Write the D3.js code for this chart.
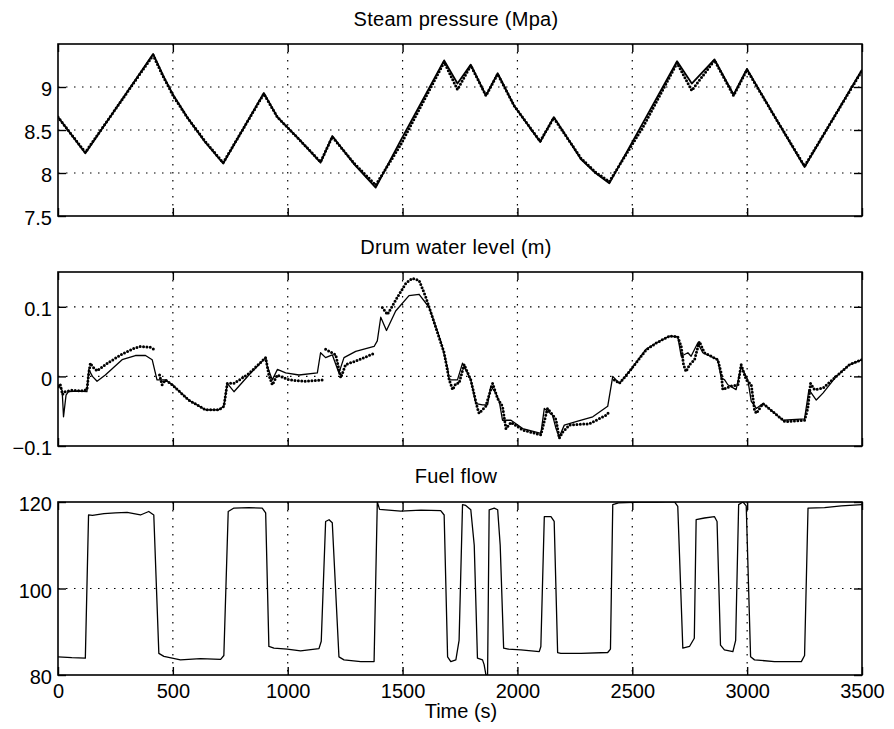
<!DOCTYPE html>
<html><head><meta charset="utf-8">
<script src="https://cdn.jsdelivr.net/npm/d3@7"></script>
<style>
body{margin:0;background:#fff}
svg{display:block;background:#fff}
</style>
</head><body>
<svg id="c" width="894" height="729"></svg>
<script>
// ---------------- DATA ----------------
const xTicks = [0, 500, 1000, 1500, 2000, 2500, 3000, 3500];
const xTickLabels = ["0", "500", "1000", "1500", "2000", "2500", "3000", "3500"];

const titles = ["Steam pressure (Mpa)", "Drum water level (m)", "Fuel flow"];
const xLabel = "Time (s)";

const pressureTicks = [7.5, 8, 8.5, 9];
const pressureTickLabels = ["7.5", "8", "8.5", "9"];
const levelTicks = [-0.1, 0, 0.1];
const levelTickLabels = ["\u22120.1", "0", "0.1"];
const fuelTicks = [80, 100, 120];
const fuelTickLabels = ["80", "100", "120"];

// Steam pressure: model (solid) and measured (dotted)
const pressureModel = [[0,8.65],[119,8.23],[414,9.385],[460,9.12],[503,8.90],[562,8.65],[640,8.36],[719,8.11],
  [896,8.93],[955,8.65],[1050,8.39],[1143,8.12],[1194,8.43],[1290,8.10],[1383,7.83],[1492,8.38],[1681,9.31],
  [1739,9.04],[1797,9.26],[1863,8.90],[1914,9.16],[1986,8.78],[2099,8.36],[2158,8.65],[2219,8.40],[2277,8.16],
  [2340,8.00],[2400,7.88],[2550,8.60],[2695,9.30],[2759,9.04],[2858,9.32],[2941,8.91],[2999,9.21],[3119,8.66],
  [3250,8.07],[3500,9.20]];
const pressureMeasured = [[0,8.65],[119,8.24],[414,9.37],[460,9.11],[503,8.89],[562,8.65],[640,8.37],[719,8.12],
  [896,8.92],[955,8.65],[1050,8.39],[1143,8.13],[1194,8.42],[1290,8.11],[1383,7.86],[1492,8.33],[1681,9.29],
  [1739,8.97],[1797,9.25],[1863,8.90],[1914,9.15],[1986,8.78],[2099,8.37],[2158,8.64],[2219,8.40],[2277,8.17],
  [2340,8.01],[2400,7.90],[2550,8.55],[2695,9.28],[2759,8.96],[2858,9.31],[2941,8.90],[2999,9.20],[3119,8.66],
  [3250,8.08],[3500,9.19]];

// Drum water level: model (solid) and measured (dotted, null = gap)
const levelModel = [[0,-0.012],[18,-0.020],[24,-0.058],[35,-0.027],[45,-0.022],[90,-0.021],[126,-0.022],[134,0.010],
  [150,0.000],[170,-0.007],[206,0.002],[279,0.024],[337,0.030],[381,0.030],[410,0.024],[431,-0.005],[468,-0.005],
  [497,-0.012],[569,-0.034],[642,-0.048],[700,-0.048],[722,-0.043],[737,-0.010],[766,-0.022],[831,0.002],[904,0.027],
  [911,0.0145],[933,-0.005],[955,0.010],[991,0.005],[1049,0.002],[1129,0.005],[1143,0.034],[1165,0.027],[1194,0.031],
  [1223,0.005],[1245,0.027],[1296,0.036],[1376,0.043],[1390,0.051],[1405,0.085],[1430,0.066],[1470,0.094],[1528,0.116],
  [1572,0.118],[1616,0.099],[1666,0.051],[1696,0.012],[1703,-0.005],[1739,-0.005],[1761,0.019],[1797,-0.005],
  [1819,-0.039],[1848,-0.041],[1870,-0.041],[1884,-0.014],[1906,-0.024],[1921,-0.036],[1935,-0.063],[1972,-0.063],
  [2023,-0.075],[2102,-0.082],[2117,-0.046],[2153,-0.056],[2168,-0.075],[2182,-0.087],[2204,-0.070],[2255,-0.065],
  [2328,-0.058],[2393,-0.043],[2415,0.000],[2444,-0.010],[2487,0.007],[2560,0.039],[2604,0.048],[2662,0.058],
  [2698,0.057],[2713,0.029],[2742,0.034],[2756,0.029],[2785,0.048],[2807,0.034],[2872,0.024],[2887,-0.002],
  [2902,-0.005],[2916,-0.012],[2952,-0.019],[2974,0.014],[3003,-0.005],[3018,-0.036],[3040,-0.046],[3069,-0.039],
  [3156,-0.063],[3250,-0.061],[3269,-0.019],[3301,-0.034],[3330,-0.024],[3388,0.000],[3446,0.017],[3500,0.024]];
const levelMeasured = [[0,-0.015],[10,-0.012],[20,-0.026],[30,-0.022],[60,-0.020],[100,-0.021],[126,-0.019],[134,0.005],
  [141,0.019],[150,0.014],[170,0.008],[220,0.020],[279,0.032],[330,0.040],[359,0.043],[400,0.042],[424,0.038],[430,null],
  [442,0.002],[453,-0.012],[468,-0.005],[497,-0.012],[569,-0.034],[642,-0.048],[700,-0.048],[722,-0.043],[737,-0.010],
  [766,-0.010],[831,0.004],[904,0.027],[918,0.002],[933,-0.012],[955,0.002],[1005,-0.005],[1078,-0.007],[1151,-0.005],
  [1158,null],[1165,0.039],[1209,0.031],[1231,-0.002],[1252,0.017],[1296,0.022],[1340,0.028],[1383,0.034],[1398,null],
  [1412,0.099],[1434,0.089],[1485,0.118],[1515,0.134],[1543,0.141],[1572,0.138],[1601,0.114],[1645,0.070],[1681,0.034],
  [1703,-0.005],[1718,-0.019],[1732,-0.010],[1746,-0.010],[1768,0.017],[1797,-0.005],[1826,-0.046],[1833,-0.053],
  [1862,-0.043],[1892,-0.010],[1914,-0.032],[1935,-0.043],[1950,-0.075],[1972,-0.066],[2023,-0.077],[2102,-0.084],
  [2131,-0.046],[2160,-0.058],[2168,-0.062],[2182,-0.089],[2197,-0.080],[2226,-0.070],[2313,-0.068],[2385,-0.056],
  [2400,-0.051],[2408,null],[2422,-0.005],[2444,-0.010],[2487,0.007],[2560,0.038],[2604,0.048],[2662,0.058],[2698,0.057],
  [2713,0.043],[2723,0.017],[2734,0.007],[2750,0.017],[2771,0.024],[2792,0.050],[2814,0.034],[2872,0.024],[2887,0.005],
  [2894,-0.019],[2930,-0.014],[2960,-0.012],[2974,0.017],[2996,-0.005],[3018,-0.012],[3032,-0.048],[3040,-0.053],
  [3069,-0.039],[3164,-0.065],[3250,-0.063],[3264,-0.046],[3276,-0.010],[3293,-0.019],[3330,-0.017],[3388,0.000],
  [3446,0.017],[3500,0.024]];

// Fuel flow
const fuelFlow = [[0,84.2],[60,84.0],[119,83.9],[133,117.0],[150,116.9],[200,117.3],[250,117.5],[301,117.6],[359,117.0],
  [395,117.8],[417,117.0],[439,85.0],[461,84.3],[533,83.5],[620,83.8],[708,83.6],[722,84.5],[741,117.8],[766,118.6],
  [830,118.7],[889,118.6],[904,117.5],[918,86.6],[940,86.2],[998,86.0],[1056,85.6],[1136,86.1],[1146,87.8],[1165,115.5],
  [1180,115.9],[1194,115.2],[1223,84.2],[1245,83.5],[1318,83.1],[1376,83.1],[1390,120.0],[1400,118.3],[1492,117.9],
  [1580,118.1],[1666,118.0],[1681,117.0],[1696,84.2],[1710,83.1],[1732,83.5],[1746,88.0],[1761,119.4],[1775,119.2],
  [1797,118.2],[1812,110.0],[1826,83.9],[1848,83.5],[1855,82.4],[1863,80.0],[1870,80.0],[1877,118.2],[1899,118.6],
  [1914,118.2],[1925,110.0],[1940,86.2],[1960,86.0],[2015,85.8],[2095,85.4],[2102,86.6],[2117,116.6],[2146,116.6],
  [2160,115.5],[2175,85.2],[2189,85.0],[2277,85.0],[2393,85.2],[2405,86.0],[2415,119.4],[2440,119.8],[2538,120.0],
  [2610,120.0],[2683,120.1],[2698,119.0],[2720,86.2],[2749,86.6],[2770,88.5],[2778,115.9],[2814,116.3],[2858,116.6],
  [2869,115.5],[2884,86.9],[2901,85.8],[2938,85.4],[2950,88.0],[2963,119.4],[2982,120.0],[2996,119.1],[3015,84.2],
  [3032,83.5],[3119,83.1],[3236,83.1],[3250,84.5],[3265,118.6],[3337,118.7],[3410,119.1],[3500,119.4]];

// ---------------- DRAWING ----------------
const FONT = '"Liberation Sans", Arial, Helvetica, sans-serif';
const svg = d3.select("#c");
const x = d3.scaleLinear().domain([0, 3500]).range([58, 862]);

const panels = [
  {title: titles[0], top: 44, bottom: 216, domain: [7.5, 9.5], ticks: pressureTicks, labels: pressureTickLabels,
   series: [{data: pressureModel, kind: "solid"}, {data: pressureMeasured, kind: "dots"}], xLabels: false, titleY: 26},
  {title: titles[1], top: 272, bottom: 446, domain: [-0.1, 0.15], ticks: levelTicks, labels: levelTickLabels,
   series: [{data: levelModel, kind: "solid"}, {data: levelMeasured, kind: "dots"}], xLabels: false, titleY: 254},
  {title: titles[2], top: 502, bottom: 675, domain: [80, 120], ticks: fuelTicks, labels: fuelTickLabels,
   series: [{data: fuelFlow, kind: "solid"}], xLabels: true, titleY: 483}
];

function styleAxis(g) {
  g.attr("font-family", FONT).attr("font-size", 20);
  g.select(".domain").remove();
  g.selectAll(".tick line").attr("stroke", "#000").attr("stroke-width", 1.4);
  g.selectAll(".tick text").attr("fill", "#000");
}

panels.forEach((p, pi) => {
  const y = d3.scaleLinear().domain(p.domain).range([p.bottom, p.top]);
  const g = svg.append("g");
  const left = x.range()[0], right = x.range()[1];

  // grid
  const grid = g.append("g").attr("stroke", "#000").attr("stroke-width", 1.2).attr("stroke-dasharray", "1.5,6.5");
  grid.selectAll("line.vx").data(xTicks.filter(t => t > 0 && t < 3500)).join("line")
    .attr("x1", d => x(d)).attr("x2", d => x(d)).attr("y1", p.top).attr("y2", p.bottom);
  grid.selectAll("line.hy").data(p.ticks.filter(t => t > p.domain[0] && t < p.domain[1])).join("line")
    .attr("x1", left).attr("x2", right).attr("y1", d => y(d)).attr("y2", d => y(d));

  // clip
  const cid = "clip" + pi;
  svg.append("clipPath").attr("id", cid).append("rect")
    .attr("x", left).attr("y", p.top).attr("width", right - left).attr("height", p.bottom - p.top);

  const line = d3.line().defined(d => d[1] != null).x(d => x(d[0])).y(d => y(d[1]));
  const sg = g.append("g").attr("clip-path", `url(#${cid})`);
  p.series.forEach(s => {
    const path = sg.append("path").attr("d", line(s.data)).attr("fill", "none").attr("stroke", "#000")
      .attr("stroke-linejoin", "round");
    if (s.kind === "solid") {
      path.attr("stroke-width", pi === 0 ? 1.8 : 1.3);
    } else {
      path.attr("stroke-width", 3).attr("stroke-linecap", "round").attr("stroke-dasharray", "0,3.4");
    }
  });

  // axes (inward ticks on all four sides)
  const fmtX = (d, i) => p.xLabels ? xTickLabels[i] : "";
  g.append("g").attr("transform", `translate(0,${p.bottom})`)
    .call(d3.axisBottom(x).tickValues(xTicks).tickSize(-8).tickPadding(9).tickFormat(fmtX)).call(styleAxis);
  g.append("g").attr("transform", `translate(0,${p.top})`)
    .call(d3.axisTop(x).tickValues(xTicks).tickSize(-8).tickFormat(() => "")).call(styleAxis);
  const ly = g.append("g").attr("transform", `translate(${left},0)`)
    .call(d3.axisLeft(y).tickValues(p.ticks).tickSize(-8).tickPadding(6).tickFormat((d, i) => p.labels[i])).call(styleAxis);
  ly.selectAll(".tick text").attr("dy", "0.44em");
  g.append("g").attr("transform", `translate(${right},0)`)
    .call(d3.axisRight(y).tickValues(p.ticks).tickSize(-8).tickFormat(() => "")).call(styleAxis);

  // frame
  g.append("rect").attr("x", left).attr("y", p.top).attr("width", right - left).attr("height", p.bottom - p.top)
    .attr("fill", "none").attr("stroke", "#000").attr("stroke-width", 1.6);

  // title
  svg.append("text").attr("x", 456).attr("y", p.titleY).attr("text-anchor", "middle")
    .attr("font-family", FONT).attr("font-size", 20).style("letter-spacing", "0.3px").text(p.title);
});

svg.append("text").attr("x", 461).attr("y", 718).attr("text-anchor", "middle")
  .attr("font-family", FONT).attr("font-size", 20).text(xLabel);
</script>
</body></html>
